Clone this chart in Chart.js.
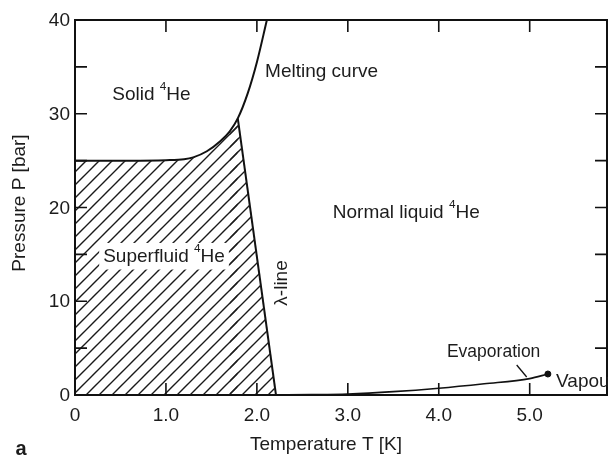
<!DOCTYPE html>
<html>
<head>
<meta charset="utf-8">
<script src="https://cdn.jsdelivr.net/npm/chart.js@4.4.1/dist/chart.umd.min.js"></script>
<style>
  html, body { margin: 0; padding: 0; background: #fff; overflow: hidden; }
  #wrap { width: 608px; height: 457px; position: relative; }
  canvas { display: block; }
</style>
</head>
<body>
<div id="wrap"><canvas id="phaseChart"></canvas></div>
<script>
// melting curve (solid / liquid boundary), T in K, P in bar
var meltT = [0, 0.6, 1.0, 1.2, 1.3, 1.45, 1.6, 1.7, 1.79, 1.9, 2.0, 2.11];
var meltP = [25.0, 25.0, 25.05, 25.15, 25.35, 26.0, 27.1, 28.1, 29.5, 32.2, 35.5, 40.0];
// lambda line (superfluid / normal liquid boundary)
var lambdaT = [1.79, 2.21];
var lambdaP = [29.5, 0];
// evaporation curve up to the critical point
var evapT = [2.21, 2.6, 3.0, 3.5, 4.0, 4.5, 5.0, 5.2];
var evapP = [0, 0.03, 0.1, 0.35, 0.72, 1.2, 1.75, 2.24];
var critT = [5.2];
var critP = [2.24];
// axis ticks
var xTicks = [0, 1, 2, 3, 4, 5];
var xTickLabels = ["0", "1.0", "2.0", "3.0", "4.0", "5.0"];
var yTicks = [0, 10, 20, 30, 40];
var yTickLabels = ["0", "10", "20", "30", "40"];
var yMinorTicks = [5, 15, 25, 35];

var FONT = "Liberation Sans, Arial, Helvetica, sans-serif";
var INK = "#1c1c1c";

function pts(xs, ys) {
    var out = [];
    for (var i = 0; i < xs.length; i++) out.push({x: xs[i], y: ys[i]});
    return out;
}

// superfluid region, filled in two overlapping pieces so the lambda side stays straight:
// the melting curve up to the lambda point, and the lambda line plus the last bit of curve
var superT = [], superP = [], edgeT = [], edgeP = [];
for (var i = 0; i < meltT.length; i++) {
    if (meltT[i] <= lambdaT[0]) { superT.push(meltT[i]); superP.push(meltP[i]); }
    if (meltT[i + 1] === lambdaT[0]) { edgeT.push(meltT[i]); edgeP.push(meltP[i]); }
}
edgeT = edgeT.concat(lambdaT);
edgeP = edgeP.concat(lambdaP);

// diagonal hatch used to fill the superfluid region
function makeHatch() {
    var s = 13;
    var c = document.createElement("canvas");
    c.width = s; c.height = s;
    var g = c.getContext("2d");
    g.strokeStyle = "#1a1a1a";
    g.lineWidth = 1.4;
    g.beginPath();
    g.moveTo(-1, s + 1); g.lineTo(s + 1, -1);
    g.moveTo(-1, 1); g.lineTo(1, -1);
    g.moveTo(s - 1, s + 1); g.lineTo(s + 1, s - 1);
    g.stroke();
    return g.createPattern(c, "repeat");
}
var hatch = makeHatch();

// text labels inside the diagram, positioned in data units
var regionLabels = [
    {parts: ["Solid ", "^4", "He"], T: 0.41, P: 32.0, size: 19},
    {parts: ["Melting curve"], T: 2.09, P: 34.45, size: 19},
    {parts: ["Normal liquid ", "^4", "He"], T: 2.835, P: 19.4, size: 19},
    {parts: ["Superfluid ", "^4", "He"], T: 0.31, P: 14.7, size: 19, knockout: true},
    {parts: ["Evaporation"], T: 4.09, P: 4.6, size: 17.5},
    {parts: ["Vapour"], T: 5.29, P: 1.4, size: 19}
];

function drawParts(ctx, parts, x, y, size) {
    var width = 0;
    for (var i = 0; i < parts.length; i++) {
        var p = parts[i];
        var sup = p.charAt(0) === "^";
        var t = sup ? p.slice(1) : p;
        ctx.font = (sup ? size * 0.62 : size) + "px " + FONT;
        ctx.fillText(t, x + width, sup ? y - size * 0.42 : y);
        width += ctx.measureText(t).width;
    }
    return width;
}

function measureParts(ctx, parts, size) {
    var w = 0;
    for (var i = 0; i < parts.length; i++) {
        var p = parts[i];
        var sup = p.charAt(0) === "^";
        ctx.font = (sup ? size * 0.62 : size) + "px " + FONT;
        w += ctx.measureText(sup ? p.slice(1) : p).width;
    }
    return w;
}

var framePlugin = {
    id: "frame",
    beforeDraw: function(chart) {
        var ctx = chart.ctx;
        ctx.save();
        ctx.fillStyle = "#fff";
        ctx.fillRect(0, 0, chart.width, chart.height);
        ctx.restore();
    },
    afterDatasetsDraw: function(chart) {
        var ctx = chart.ctx;
        var a = chart.chartArea;
        var xs = chart.scales.x, ys = chart.scales.y;
        ctx.save();

        // box and inward ticks
        ctx.strokeStyle = "#111";
        ctx.lineWidth = 2;
        ctx.strokeRect(a.left, a.top, a.right - a.left, a.bottom - a.top);
        ctx.lineWidth = 1.6;
        ctx.beginPath();
        xTicks.forEach(function(v) {
            var px = xs.getPixelForValue(v);
            if (v > 0) {
                ctx.moveTo(px, a.bottom); ctx.lineTo(px, a.bottom - 12);
                ctx.moveTo(px, a.top); ctx.lineTo(px, a.top + 12);
            }
        });
        yTicks.concat(yMinorTicks).forEach(function(v) {
            var py = ys.getPixelForValue(v);
            if (v > 0) {
                ctx.moveTo(a.left, py); ctx.lineTo(a.left + 12, py);
                ctx.moveTo(a.right, py); ctx.lineTo(a.right - 12, py);
            }
        });
        ctx.stroke();

        // tick labels
        ctx.fillStyle = INK;
        ctx.font = "19px " + FONT;
        ctx.textBaseline = "middle";
        ctx.textAlign = "center";
        xTicks.forEach(function(v, i) {
            ctx.fillText(xTickLabels[i], xs.getPixelForValue(v), a.bottom + 21);
        });
        ctx.textAlign = "right";
        yTicks.forEach(function(v, i) {
            ctx.fillText(yTickLabels[i], a.left - 5, ys.getPixelForValue(v) + 1);
        });

        // axis titles
        ctx.textAlign = "center";
        ctx.fillText("Temperature T [K]", 326, 445);
        ctx.save();
        ctx.translate(20, 203);
        ctx.rotate(-Math.PI / 2);
        ctx.fillText("Pressure P [bar]", 0, 0);
        ctx.restore();
        ctx.font = "bold 20px " + FONT;
        ctx.fillText("a", 21, 449);

        // region labels
        ctx.textAlign = "left";
        regionLabels.forEach(function(l) {
            var x = xs.getPixelForValue(l.T), y = ys.getPixelForValue(l.P);
            if (l.knockout) {
                var w = measureParts(ctx, l.parts, l.size);
                ctx.fillStyle = "#fff";
                ctx.fillRect(x - 4, y - l.size * 0.75, w + 8, l.size * 1.4);
                ctx.fillStyle = INK;
            }
            drawParts(ctx, l.parts, x, y, l.size);
        });

        // lambda-line label, written along the line
        ctx.save();
        ctx.translate(xs.getPixelForValue(2.27), ys.getPixelForValue(11.95));
        ctx.rotate(-Math.PI / 2);
        ctx.textAlign = "center";
        ctx.font = "19px " + FONT;
        ctx.fillText("\u03bb-line", 0, 0);
        ctx.restore();

        // leader from "Evaporation" to its curve
        ctx.strokeStyle = "#111";
        ctx.lineWidth = 1.3;
        ctx.beginPath();
        ctx.moveTo(xs.getPixelForValue(4.857), ys.getPixelForValue(3.2));
        ctx.lineTo(xs.getPixelForValue(4.967), ys.getPixelForValue(1.92));
        ctx.stroke();

        ctx.restore();
    }
};

var ctx = document.getElementById("phaseChart");
new Chart(ctx, {
    type: "scatter",
    data: {
        datasets: [
            {
                label: "Superfluid (below melting curve)",
                data: pts(superT, superP),
                showLine: true,
                fill: "origin",
                backgroundColor: hatch,
                borderWidth: 0,
                pointRadius: 0,
                cubicInterpolationMode: "monotone"
            },
            {
                label: "Superfluid (left of lambda line)",
                data: pts(edgeT, edgeP),
                showLine: true,
                fill: "origin",
                backgroundColor: hatch,
                borderWidth: 0,
                pointRadius: 0
            },
            {
                label: "Melting curve",
                data: pts(meltT, meltP),
                showLine: true,
                borderColor: "#111",
                borderWidth: 2,
                pointRadius: 0,
                cubicInterpolationMode: "monotone"
            },
            {
                label: "Lambda line",
                data: pts(lambdaT, lambdaP),
                showLine: true,
                borderColor: "#111",
                borderWidth: 2,
                pointRadius: 0
            },
            {
                label: "Evaporation",
                data: pts(evapT, evapP),
                showLine: true,
                borderColor: "#111",
                borderWidth: 1.7,
                pointRadius: 0,
                cubicInterpolationMode: "monotone"
            },
            {
                label: "Critical point",
                data: pts(critT, critP),
                showLine: false,
                pointRadius: 3,
                pointBackgroundColor: "#111",
                pointBorderColor: "#111",
                clip: false
            }
        ]
    },
    options: {
        responsive: true,
        maintainAspectRatio: false,
        animation: false,
        layout: { autoPadding: false, padding: { left: 75, top: 20, right: 1, bottom: 62 } },
        plugins: { legend: { display: false }, tooltip: { enabled: false } },
        scales: {
            x: { type: "linear", min: 0, max: 5.85, display: false },
            y: { type: "linear", min: 0, max: 40, display: false }
        }
    },
    plugins: [framePlugin]
});
</script>
</body>
</html>
